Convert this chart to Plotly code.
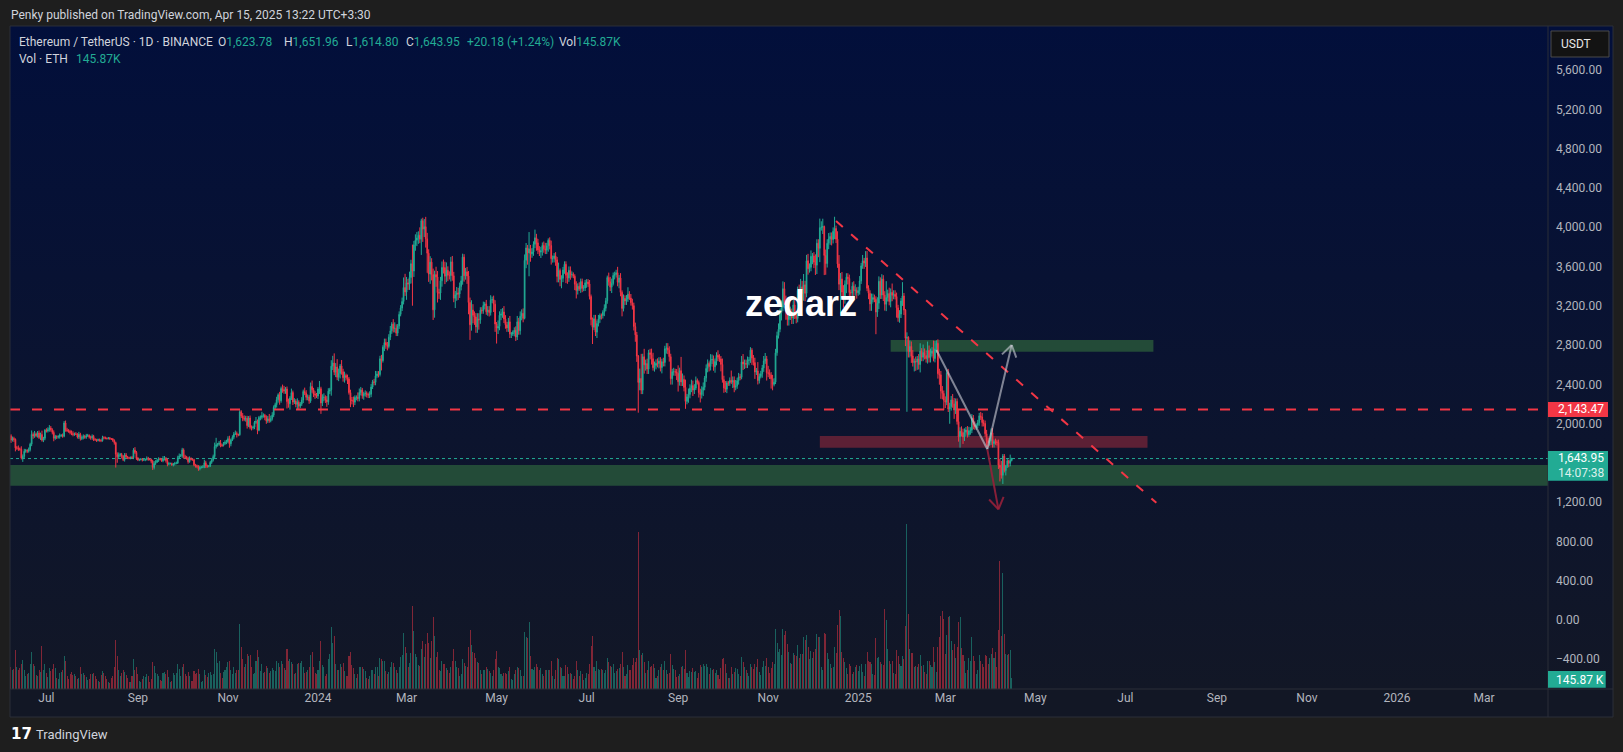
import base64
import math
import pandas as pd
import plotly.graph_objects as go

# ---------------- DATA (ETH/USDT daily, Binance) ----------------
START = "2023-06-06"
first_open = 1810

close = [
    # 2023-06 (6..30)
    1877,1832,1848,1839,1752,1752,1742,1739,1650,1666,1718,1727,1719,1736,1790,1890,1875,1895,1877,1904,1858,1888,1831,1850,1933,
    # 2023-07
    1924,1937,1955,1937,1910,1850,1870,1862,1867,1879,1879,1871,2006,1937,1928,1922,1910,1897,1890,1893,1892,1863,1891,1847,1859,1870,1860,1875,1880,1862,1856,
    # 2023-08
    1870,1837,1835,1828,1837,1827,1826,1856,1855,1850,1847,1853,1845,1843,1829,1806,1687,1661,1681,1686,1669,1633,1680,1661,1653,1647,1656,1653,1730,1706,1645,
    # 2023-09
    1628,1634,1638,1629,1632,1634,1646,1636,1634,1616,1553,1594,1608,1625,1642,1636,1621,1639,1645,1623,1585,1593,1593,1579,1588,1595,1598,1653,1670,1671,
    # 2023-10
    1733,1662,1656,1647,1612,1646,1634,1632,1580,1567,1566,1539,1553,1556,1556,1601,1567,1564,1567,1605,1629,1664,1766,1785,1788,1803,1779,1777,1797,1810,1815,
    # 2023-11
    1846,1794,1832,1861,1894,1899,1888,1886,2121,2077,2054,2045,2054,1979,2057,1961,1960,1963,2012,2022,1932,2063,2063,2080,2084,2064,2027,2048,2028,2051,
    # 2023-12
    2086,2165,2193,2243,2293,2232,2357,2344,2333,2352,2224,2202,2260,2316,2219,2229,2196,2217,2177,2200,2239,2326,2310,2267,2272,2231,2378,2344,2300,2292,2281,
    # 2024-01
    2352,2355,2209,2268,2268,2240,2221,2330,2344,2585,2617,2523,2576,2472,2510,2587,2528,2467,2489,2469,2453,2315,2241,2235,2218,2267,2267,2256,2317,2343,2283,
    # 2024-02
    2304,2308,2296,2290,2299,2372,2425,2420,2486,2504,2500,2660,2641,2778,2825,2801,2785,2880,2944,3013,2968,2971,2921,2994,3112,3176,3243,3385,3340,
    # 2024-03
    3433,3421,3487,3628,3553,3820,3867,3890,3918,3877,4066,3980,4005,3882,3735,3523,3644,3518,3158,3517,3493,3333,3329,3454,3590,3588,3500,3561,3510,3507,3647,
    # 2024-04
    3505,3276,3311,3331,3319,3396,3454,3695,3505,3545,3503,3233,3006,3156,3102,3085,2984,3064,3056,3155,3148,3202,3219,3138,3156,3130,3257,3263,3216,3014,
    # 2024-05
    2972,2990,3103,3117,3136,3064,3006,2974,3036,2911,2912,2929,2950,2881,3036,2945,3092,3123,3071,3662,3789,3738,3779,3728,3748,3826,3892,3840,3767,3746,3760,
    # 2024-06
    3814,3780,3766,3810,3866,3813,3679,3681,3706,3667,3498,3559,3468,3480,3565,3622,3510,3483,3560,3515,3519,3500,3419,3354,3398,3371,3446,3378,3380,3433,
    # 2024-07
    3441,3422,3294,3060,2981,3067,2931,3019,3066,3101,3100,3134,3174,3250,3487,3444,3389,3426,3508,3517,3536,3438,3482,3336,3172,3275,3248,3269,3318,3279,3231,
    # 2024-08
    3201,2988,2903,2688,2419,2460,2340,2681,2599,2611,2555,2721,2703,2661,2569,2592,2614,2612,2636,2571,2630,2622,2762,2769,2747,2681,2457,2528,2528,2526,2513,
    # 2024-09
    2426,2539,2423,2450,2368,2226,2272,2297,2360,2387,2341,2361,2439,2418,2315,2295,2340,2369,2465,2562,2613,2581,2647,2653,2578,2633,2696,2676,2658,2602,
    # 2024-10
    2447,2363,2350,2415,2414,2440,2422,2440,2369,2384,2437,2476,2471,2628,2606,2612,2605,2643,2648,2748,2668,2621,2525,2536,2438,2480,2507,2567,2638,2659,2518,
    # 2024-11
    2512,2494,2456,2399,2422,2721,2896,2960,3130,3184,3373,3243,3187,3058,3095,3131,3074,3207,3105,3071,3355,3328,3393,3361,3413,3326,3658,3577,3591,3703,
    # 2024-12
    3706,3643,3613,3837,3784,3995,4000,4006,3712,3629,3836,3880,3906,3874,3958,3986,3878,3626,3419,3473,3339,3281,3418,3491,3477,3334,3330,3399,3352,3358,3332,
    # 2025-01
    3353,3452,3606,3657,3635,3686,3378,3327,3218,3264,3283,3266,3136,3226,3449,3309,3471,3308,3215,3283,3324,3244,3336,3306,3317,3294,3179,3077,3115,3248,3300,
    # 2025-02
    3156,2869,2879,2733,2786,2688,2621,2632,2627,2658,2601,2738,2675,2725,2693,2661,2745,2672,2714,2738,2663,2761,2818,2508,2496,2332,2307,2237,
    # 2025-03
    2218,2517,2148,2172,2241,2201,2138,2226,2020,1866,1922,1908,1863,1911,1935,1887,1927,1933,2057,1982,1967,1982,2008,2079,2067,2010,2001,1896,1827,1805,1822,
    # 2025-04 (1..15)
    1906,1796,1817,1815,1807,1577,1553,1473,1670,1522,1568,1622,1595,1623.78,1643.95,
]

# upper wick above the candle body (USDT)
wick_up = [
    25,15,20,18,10,20,25,15,30,20,25,15,12,20,15,40,20,30,15,20,25,20,40,15,10,
    20,25,30,20,15,20,15,10,15,20,15,20,20,25,20,15,15,20,25,15,20,10,25,15,20,20,15,20,15,10,15,
    20,15,15,10,10,10,15,20,15,12,10,10,10,8,10,10,10,20,25,15,15,10,20,20,10,10,8,15,20,30,15,
    15,10,10,10,10,10,20,15,8,10,15,25,20,15,15,10,10,30,25,15,20,15,10,10,10,15,15,20,25,20,
    20,15,20,15,15,20,10,10,10,10,15,10,15,10,20,30,20,15,10,15,20,20,40,70,15,20,30,15,15,20,20,
    25,30,15,20,20,30,20,10,15,15,30,30,25,25,20,25,20,15,15,45,20,15,20,40,20,15,20,30,50,30,
    30,20,20,30,15,30,20,40,40,20,25,30,20,40,20,30,20,40,20,20,30,20,40,30,25,20,40,60,20,30,20,
    20,79,20,30,40,20,40,30,20,60,73,98,40,80,50,20,60,30,40,20,30,20,30,30,40,20,20,50,40,30,20,
    20,30,20,20,30,30,20,30,50,30,30,30,40,20,40,40,30,30,50,20,50,60,40,20,30,30,40,103,140,
    60,40,60,40,194,40,60,60,40,80,20,30,78,100,60,40,60,40,60,40,80,60,40,40,60,80,60,80,40,40,50,
    60,40,40,60,50,40,50,35,30,40,50,50,50,100,60,40,40,60,60,30,30,40,20,40,40,40,50,30,40,40,
    20,60,40,50,40,60,40,30,40,60,20,20,30,40,60,40,50,40,50,60,50,30,171,40,40,30,83,40,40,40,40,
    30,40,60,30,20,30,50,30,30,40,30,80,20,30,30,30,30,30,40,40,30,20,20,30,30,40,30,30,30,30,
    30,30,40,20,20,40,40,30,40,20,20,20,40,30,20,50,50,50,30,30,30,60,30,50,20,40,30,40,70,30,40,
    40,30,40,30,10,100,250,30,80,40,50,30,40,60,60,40,40,50,40,40,30,40,30,50,50,40,30,30,40,30,30,
    80,30,140,60,40,80,30,60,40,60,50,40,40,20,20,40,40,50,20,40,40,20,60,50,40,30,30,50,30,30,
    60,40,70,20,20,30,100,40,40,60,30,40,30,60,80,40,40,40,30,30,20,30,50,30,90,30,30,30,50,60,30,
    70,40,30,40,40,40,40,60,40,70,75,67,60,80,40,60,40,60,70,40,40,60,80,60,110,40,60,70,40,60,
    30,40,80,40,40,92,60,80,10,60,40,60,40,40,40,120,30,80,90,60,70,70,40,40,40,40,30,40,50,60,30,
    40,50,30,60,30,70,70,30,30,60,40,30,30,60,50,40,50,40,40,167,40,60,40,90,40,40,40,30,40,30,140,
    30,10,50,10,60,50,60,30,50,30,50,80,30,80,40,50,90,50,50,40,107,80,30,40,50,40,50,30,
    40,33,40,40,40,60,59,30,30,130,40,50,40,40,30,40,40,30,40,30,40,20,30,30,40,40,30,30,40,30,30,
    44,49,20,30,20,30,63,67,20,20,12,20,10,60,8.01,
]

# lower wick below the candle body (USDT)
wick_dn = [
    20,30,15,25,35,20,20,15,15,40,20,15,20,15,20,20,30,20,15,20,15,25,15,20,20,
    15,15,20,20,20,30,15,20,15,20,15,15,10,20,15,15,20,15,20,15,10,15,20,20,15,20,15,15,10,15,20,
    20,15,10,15,10,10,15,10,15,10,10,8,10,10,15,20,135,60,15,20,25,15,20,15,15,10,10,10,15,15,15,
    10,10,10,15,10,15,10,15,10,20,25,20,15,10,15,10,10,15,15,20,20,10,10,10,15,15,10,10,15,10,
    20,20,15,15,20,10,10,10,15,15,20,20,15,10,10,10,20,15,10,10,15,15,15,20,20,15,20,15,10,15,20,
    15,40,25,10,20,10,30,15,10,20,30,20,25,30,15,20,30,20,20,15,40,10,30,20,20,30,30,20,20,15,
    20,20,25,30,30,40,20,30,30,30,70,40,60,20,30,20,30,50,30,20,20,30,20,30,30,30,20,30,30,40,20,
    30,50,110,30,40,30,50,30,30,60,40,30,50,30,40,50,30,40,50,30,50,20,73,40,50,30,30,30,30,30,30,
    40,30,30,30,30,30,20,30,30,20,30,20,100,20,40,40,40,20,30,30,40,40,30,30,30,20,30,30,40,
    80,60,60,60,353,60,60,60,60,40,160,130,80,90,200,80,100,60,103,80,100,100,60,70,60,60,80,60,60,40,60,
    50,40,100,60,60,40,40,40,60,40,80,120,154,60,80,80,60,60,100,40,30,30,40,30,40,40,30,30,80,80,
    157,60,40,50,40,40,40,40,40,40,40,20,40,40,30,40,40,40,40,10,80,120,238,80,40,40,40,80,40,40,60,
    50,40,40,40,60,40,60,40,40,60,60,60,70,90,40,40,80,60,40,50,30,20,60,80,40,20,40,40,30,30,
    50,30,30,60,171,30,40,60,30,40,40,30,40,30,30,40,40,60,20,40,30,40,60,40,80,30,40,40,30,20,30,
    40,40,70,60,308,80,40,40,90,60,50,50,50,60,30,40,40,40,50,40,60,40,40,50,40,50,60,60,40,40,70,
    100,40,40,40,40,76,30,60,40,40,60,40,20,20,50,80,40,60,30,40,40,50,40,40,40,60,40,40,30,70,
    30,50,30,40,30,30,20,60,50,30,30,40,30,20,60,50,40,40,50,30,70,30,70,30,40,30,20,40,40,30,80,
    40,40,100,60,20,20,30,30,30,80,40,33,130,60,60,40,60,60,40,50,40,40,40,40,110,80,40,60,40,40,
    80,60,100,90,90,140,30,70,200,114,40,60,60,60,40,80,40,40,60,319,60,100,60,90,60,80,90,40,70,50,60,
    30,40,30,30,60,40,30,60,70,70,30,30,226,50,60,40,40,60,65,70,40,40,60,60,40,30,100,40,50,40,50,
    50,80,749,60,60,70,40,90,90,80,50,80,40,40,40,40,50,50,50,30,30,40,40,50,100,80,60,100,
    60,30,30,150,40,40,90,40,30,50,111,40,70,40,40,30,20,40,30,40,30,30,30,30,30,40,30,30,60,40,30,
    40,40,40,30,30,40,142,33,88,20,50,20,40,30,8.98,
]

# daily volume, thousands of ETH
volume_k = [
    380,300,250,270,520,300,250,280,340,390,260,180,200,220,330,490,330,310,190,180,250,230,570,250,330,
    220,160,280,240,270,330,280,150,130,220,230,260,440,380,180,130,200,230,190,200,180,140,150,290,200,210,190,160,120,130,200,
    200,220,170,140,110,100,190,240,210,170,140,90,80,150,170,290,650,440,260,170,220,260,230,190,150,90,100,170,400,260,300,
    200,110,100,130,180,160,200,180,100,130,360,310,220,200,170,120,110,220,230,200,250,160,90,110,210,190,220,330,270,180,
    290,330,200,180,230,170,110,110,240,200,210,270,200,100,110,250,190,160,210,230,190,200,530,500,350,380,220,150,230,260,290,
    360,380,260,200,300,210,260,260,870,560,400,290,330,470,440,450,300,200,210,380,520,430,240,340,210,230,310,280,220,240,
    280,250,240,380,350,300,370,330,280,260,540,380,400,360,330,200,220,330,350,350,380,300,220,230,250,300,450,500,300,220,200,
    260,380,640,320,300,180,200,400,470,830,620,710,330,260,250,330,290,350,240,180,180,440,490,320,280,200,150,200,300,290,300,
    270,240,150,130,180,250,260,200,300,290,180,420,400,380,380,240,200,230,300,360,350,300,250,210,290,430,450,750,560,
    480,300,350,480,1107,770,470,430,320,310,530,640,430,600,750,620,420,640,965,710,430,500,250,240,380,330,340,280,250,220,290,
    370,540,370,300,280,180,200,400,350,310,300,560,790,590,500,480,420,360,350,250,200,260,250,300,270,240,210,170,250,400,
    510,300,280,200,170,220,220,200,240,290,140,120,200,250,300,280,260,180,170,760,700,680,890,440,270,260,300,330,300,250,280,
    200,170,250,260,260,250,380,170,140,250,420,400,300,280,180,170,320,300,200,220,200,140,180,380,260,180,240,200,120,150,
    220,200,340,580,710,290,240,370,270,250,270,250,210,250,420,360,310,290,330,220,240,270,280,330,490,300,180,200,320,260,260,
    320,420,360,420,2090,520,450,480,360,210,250,380,300,310,330,280,150,170,250,300,330,260,380,250,200,210,470,320,270,260,160,
    180,200,290,310,270,520,210,160,240,230,280,230,240,150,220,320,290,330,310,330,290,200,280,260,270,220,260,190,140,280,
    400,420,330,220,150,150,290,200,230,280,270,200,170,430,360,300,250,210,180,330,300,270,330,300,400,230,190,290,370,310,410,
    300,220,280,360,330,800,610,500,530,450,800,720,780,600,500,350,330,480,460,440,590,410,470,470,690,660,720,560,400,510,
    420,500,530,730,690,700,300,250,750,740,480,400,330,280,300,560,480,850,1050,980,500,420,360,280,200,330,310,200,230,300,320,
    240,310,330,230,180,330,500,380,360,330,200,190,680,420,430,360,330,320,1067,920,530,380,330,380,220,200,520,440,340,310,440,
    400,840,2200,1000,530,480,480,290,310,300,340,460,310,320,230,200,370,370,320,290,560,360,230,560,700,980,1040,930,
    470,720,960,980,640,520,600,420,560,890,960,550,460,380,220,260,420,380,700,440,380,200,260,450,380,340,300,450,440,330,420,
    470,550,420,500,300,790,1707,710,1547,733,470,450,470,520,145.87,
]

month_ticks = ["2023-07-01","2023-09-01","2023-11-01","2024-01-01","2024-03-01","2024-05-01","2024-07-01",
               "2024-09-01","2024-11-01","2025-01-01","2025-03-01","2025-05-01","2025-07-01","2025-09-01",
               "2025-11-01","2026-01-01","2026-03-01"]
month_labels = ["Jul","Sep","Nov","2024","Mar","May","Jul","Sep","Nov","2025","Mar","May","Jul","Sep","Nov","2026","Mar"]

# price-scale labels shown by the reference (1,600 sits under the last-price tag)
price_ticks = [-400, 0, 400, 800, 1200, 2000, 2400, 2800, 3200, 3600, 4000, 4400, 4800, 5200, 5600]

h_level = 2143.47
last_price = 1643.95

# chart drawings (date, price) as placed by the author
trend_line = [("2024-12-17", 4063), ("2025-07-22", 1194)]
resist_zone = ("2025-01-23", "2025-07-20", 2732, 2851)
red_zone = ("2024-12-06", "2025-07-16", 1754, 1873)
support_zone = (1367, 1578)
gray_path = [("2025-02-23", 2749), ("2025-03-29 12:00", 1738), ("2025-04-15", 2800)]
red_arrow = [("2025-03-29 12:00", 1738), ("2025-04-06", 1127)]

# ---------------- geometry ----------------
W, H = 1623, 752
PL, PR, PT, PB = 10, 1548, 26, 689
X_REF = pd.Timestamp("2023-07-01")
X_REF_PX = 46.4
PX_DAY = 1.476
Y0_PX = 620.0
PX_USD = 0.09821
VOL_PX_PER_K = 0.075


def px_to_date(px):
    return X_REF + pd.Timedelta(days=(px - X_REF_PX) / PX_DAY)


def date_to_px(d):
    return X_REF_PX + (pd.Timestamp(d) - X_REF) / pd.Timedelta(days=1) * PX_DAY


def px_to_price(py):
    return (Y0_PX - py) / PX_USD


def price_to_px(p):
    return Y0_PX - p * PX_USD


def pxx(px):
    return (px - PL) / (PR - PL)


def pxy(py):
    return (PB - py) / (PB - PT)


n = min(len(close), len(wick_up), len(wick_dn), len(volume_k))
dates = pd.date_range(START, periods=n, freq="D")
closes = close[:n]
opens = [first_open] + closes[:n - 1]
highs = [max(o, c) + u for o, c, u in zip(opens, closes, wick_up)]
lows = [min(o, c) - d for o, c, d in zip(opens, closes, wick_dn)]

UP = "#22ab94"
DN = "#f23645"
vol_colors = ["rgba(34,171,148,0.5)" if c >= o else "rgba(242,54,69,0.5)" for o, c in zip(opens, closes)]

fig = go.Figure()
fig.add_trace(go.Bar(x=dates, y=volume_k[:n], marker=dict(color=vol_colors, line=dict(width=0)),
                     width=0.7 * 86400000, yaxis="y2", hoverinfo="skip", showlegend=False))
fig.add_trace(go.Candlestick(x=dates, open=opens, high=highs, low=lows, close=closes,
                             increasing=dict(line=dict(color=UP, width=1), fillcolor=UP),
                             decreasing=dict(line=dict(color=DN, width=1), fillcolor=DN),
                             whiskerwidth=0, hoverinfo="skip", showlegend=False))

shapes = []
# zones (below candles)
shapes.append(dict(type="rect", xref="paper", yref="y", x0=0, x1=1, y0=support_zone[0], y1=support_zone[1],
                   fillcolor="#234b38", line=dict(width=0), layer="below"))
shapes.append(dict(type="rect", xref="x", yref="y", x0=resist_zone[0], x1=resist_zone[1], y0=resist_zone[2],
                   y1=resist_zone[3], fillcolor="#234b38", line=dict(width=0), layer="below"))
shapes.append(dict(type="rect", xref="x", yref="y", x0=red_zone[0], x1=red_zone[1], y0=red_zone[2],
                   y1=red_zone[3], fillcolor="#5c2035", line=dict(width=0), layer="below"))
# last price dotted line
shapes.append(dict(type="line", xref="paper", yref="y", x0=0, x1=1, y0=last_price, y1=last_price,
                   line=dict(color="#22ab94", width=1, dash="dot"), layer="below"))
# horizontal dashed level
shapes.append(dict(type="line", xref="paper", yref="y", x0=0, x1=1, y0=h_level, y1=h_level,
                   line=dict(color="#f23645", width=2, dash="10px,12px"), layer="above"))
# trend line
shapes.append(dict(type="line", xref="x", yref="y", x0=trend_line[0][0], y0=trend_line[0][1],
                   x1=trend_line[1][0], y1=trend_line[1][1],
                   line=dict(color="#f23645", width=2, dash="9px,11px"), layer="above"))


def seg(p, q, color, width=2):
    return dict(type="line", xref="x", yref="y", x0=p[0], y0=p[1], x1=q[0], y1=q[1],
                line=dict(color=color, width=width), layer="above")


def arrow_head(tail, tip, color, length=13.5, ang=33):
    tx, ty = date_to_px(tip[0]), price_to_px(tip[1])
    sx, sy = date_to_px(tail[0]), price_to_px(tail[1])
    dx, dy = tx - sx, ty - sy
    L = math.hypot(dx, dy)
    vx, vy = -dx / L, -dy / L
    out = []
    for s in (1, -1):
        a = math.radians(ang * s)
        rx = vx * math.cos(a) - vy * math.sin(a)
        ry = vx * math.sin(a) + vy * math.cos(a)
        ex, ey = tx + length * rx, ty + length * ry
        out.append(seg((pd.Timestamp(tip[0]), tip[1]), (px_to_date(ex), px_to_price(ey)), color))
    return out


GRAY = "rgba(200,202,212,0.62)"
REDA = "rgba(150,32,58,0.9)"
shapes.append(seg(gray_path[0], gray_path[1], GRAY))
shapes.append(seg(gray_path[1], gray_path[2], GRAY))
shapes += arrow_head(gray_path[1], gray_path[2], GRAY)
shapes.append(seg(red_arrow[0], red_arrow[1], REDA))
shapes += arrow_head(red_arrow[0], red_arrow[1], REDA)


# frame pieces (paper coordinates)
def prect(x0, y0, x1, y1, fill, line=None, layer="above"):
    return dict(type="rect", xref="paper", yref="paper", x0=pxx(x0), x1=pxx(x1), y0=pxy(y1), y1=pxy(y0),
                fillcolor=fill, line=line or dict(width=0), layer=layer)


def pline(x0, y0, x1, y1, color, width=1):
    return dict(type="line", xref="paper", yref="paper", x0=pxx(x0), x1=pxx(x1), y0=pxy(y0), y1=pxy(y1),
                line=dict(color=color, width=width), layer="above")


shapes.append(prect(10, 689, 1613, 717, "#121725", layer="below"))
shapes.append(pline(1548, 26, 1548, 717, "#2a2e39"))
shapes.append(pline(10, 689, 1613, 689, "#2a2e39"))
shapes.append(prect(10, 26, 1613, 717, "rgba(0,0,0,0)", line=dict(color="#2a2e39", width=1)))
# price tags
shapes.append(prect(1548, 402, 1608, 417, "#f23645"))
shapes.append(prect(1548, 451, 1608, 480.7, "#22ab94"))
shapes.append(prect(1548, 671, 1605.7, 687.7, "#22ab94"))
shapes.append(prect(1551, 31, 1609, 57, "#131313", line=dict(color="#4a4a4a", width=1)))

FONT = "Roboto, 'Liberation Sans', sans-serif"
TXT = "#d1d4dc"
TEAL = "#22ab94"


def ann(px, py, text, size=12, color=TXT, xanchor="left", family=FONT):
    return dict(xref="paper", yref="paper", x=pxx(px), y=pxy(py), text=text, showarrow=False,
                xanchor=xanchor, yanchor="middle", font=dict(size=size, color=color, family=family))


def tv(label, value):
    return f'{label}<span style="color:{TEAL}">{value}</span>'


annotations = [
    ann(9, 15, "Penky published on TradingView.com, Apr 15, 2025 13:22 UTC+3:30", size=12),
    ann(17, 42, "Ethereum / TetherUS · 1D · BINANCE"),
    ann(216, 42, tv("O", "1,623.78")),
    ann(282, 42, tv("H", "1,651.96")),
    ann(344, 42, tv("L", "1,614.80")),
    ann(404, 42, tv("C", "1,643.95")),
    ann(465, 42, "+20.18 (+1.24%)", color=TEAL),
    ann(557, 42, tv("Vol", "145.87K")),
    ann(17, 59, "Vol · ETH"),
    ann(74, 59, "145.87K", color=TEAL),
    ann(1556, 409.5, "2,143.47", color="#ffffff"),
    ann(1556, 458, "1,643.95", color="#ffffff"),
    ann(1556, 473, "14:07:38", color="rgba(255,255,255,0.85)"),
    ann(1554, 679.5, "145.87 K", color="#ffffff"),
    ann(1559, 44, "USDT", color="#e6e6e6"),
    ann(801, 304, "<b>zedarz</b>", size=36, color="#ffffff", xanchor="center",
        family="'Liberation Sans', Arial, sans-serif"),
    ann(9, 734, "<b>17</b>", size=15, color="#ffffff", family="'DejaVu Sans', sans-serif"),
    ann(34, 734, "TradingView", size=13, color=TXT),
]

svg = ("<svg xmlns='http://www.w3.org/2000/svg' width='4' height='200' viewBox='0 0 4 200' "
       "preserveAspectRatio='none'><defs><linearGradient id='g' x1='0' y1='0' x2='0' y2='1'>"
       "<stop offset='0' stop-color='#020f3b'/><stop offset='1' stop-color='#121726'/>"
       "</linearGradient></defs><rect width='4' height='200' fill='url(#g)'/></svg>")
bg_src = "data:image/svg+xml;base64," + base64.b64encode(svg.encode()).decode()

fig.update_layout(
    width=W, height=H, autosize=False,
    margin=dict(l=PL, r=W - PR, t=PT, b=H - PB, pad=0),
    paper_bgcolor="#1e1e1e", plot_bgcolor="rgba(0,0,0,0)",
    showlegend=False, hovermode=False, bargap=0,
    images=[dict(source=bg_src, xref="paper", yref="paper", x=pxx(10), y=pxy(26),
                 sizex=pxx(1613) - pxx(10), sizey=pxy(26) - pxy(689),
                 xanchor="left", yanchor="top", sizing="stretch", layer="below")],
    xaxis=dict(type="date", range=[px_to_date(PL), px_to_date(PR)], showgrid=False, zeroline=False,
               showline=False, ticks="", tickvals=month_ticks, ticktext=month_labels,
               tickfont=dict(size=12, color="#b2b5be", family=FONT), rangeslider=dict(visible=False),
               fixedrange=True),
    yaxis=dict(side="right", range=[px_to_price(PB), px_to_price(PT)], tickvals=price_ticks,
               tickformat=",.2f", showgrid=False, zeroline=False, showline=False, ticks="",
               ticklabelstandoff=7, tickfont=dict(size=12, color="#b2b5be", family=FONT), fixedrange=True),
    yaxis2=dict(overlaying="y", range=[0, (PB - PT) / VOL_PX_PER_K], visible=False, fixedrange=True),
    shapes=shapes,
    annotations=annotations,
)

fig.write_html("out.html", config={"displayModeBar": False})
